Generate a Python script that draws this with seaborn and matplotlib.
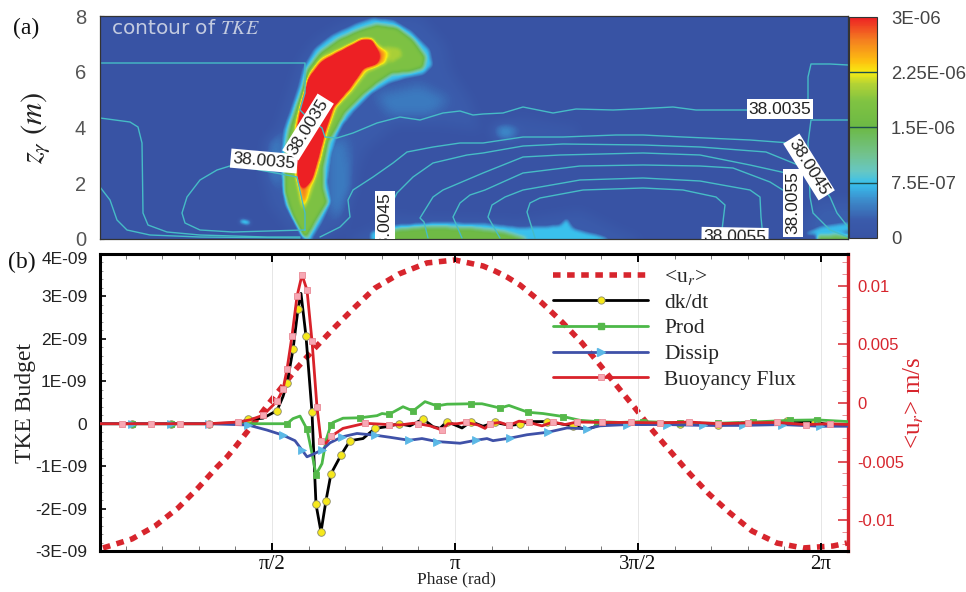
import numpy as np
import matplotlib
matplotlib.use("Agg")
import matplotlib.pyplot as plt
from matplotlib.colors import LinearSegmentedColormap
from matplotlib.lines import Line2D
from matplotlib.path import Path
from matplotlib.ticker import MultipleLocator
from matplotlib.transforms import ScaledTranslation
import seaborn as sns

# ---------- panel (b): TKE budget, values in 1E-09, phase given as sample number ----------
ur_sample = [3,32,55,78,98,117,127,136,147,170,197,215,235,255,275,299,327,355,383,395,407,420,442,462,482,500,517,535,553,571,590,609,630,652,677,703,733,747]
ur_mms = [-12.36,-11.59,-10.49,-8.95,-7.25,-5.46,-4.60,-3.67,-2.47,.09,2.98,4.69,6.48,8.18,9.80,11.0,11.94,12.19,11.68,11.25,10.74,10.06,8.53,6.91,5.12,3.24,1.45,-.43,-2.39,-4.18,-6.05,-7.76,-9.38,-10.91,-11.94,-12.36,-12.19,-11.94]

dk_sample = [0,32,71,109,140,148,163,177,183,187,193,198,201,206,212,216,221,226,231,241,250,263,275,287,299,310,323,333,340,347,362,371,383,395,410,420,430,447,460,473,487,500,540,580,618,653,687,700,715,730,748]
dk_value = [0,0,0,0,.02,.10,.13,.31,.64,.95,1.75,2.70,3.07,2.06,.27,-1.90,-2.55,-1.81,-1.18,-.74,-.40,-.35,-.11,-.07,0,-.05,.11,-.07,-.11,.05,-.10,.05,-.06,.03,-.04,-.01,.05,.05,0,-.05,-.14,-.02,0,0,-.03,0,.06,.05,.04,-.03,-.03]
dk_marks = [32,71,109,148,177,187,193,198,206,212,216,221,226,231,241,250,275,299,323,347,371,395,420,447,473,580,618,687,715]

prod_sample = [0,32,71,109,147,187,193,200,207,212,216,222,226,231,233,243,260,277,282,289,303,313,325,337,347,371,382,400,409,428,443,463,480,497,520,543,580,618,653,690,717,748]
prod_value = [0,0,0,0,0,0,.12,.18,-.13,-.70,-1.2,-.94,-.39,-.02,.03,.13,.14,.19,.24,.22,.40,.30,.52,.42,.46,.47,.47,.37,.43,.27,.24,.17,.08,.05,.03,.05,.02,.01,.04,.08,.09,.05]
prod_marks = [32,71,109,187,207,216,231,260,289,313,337,371,400,428,463,497,543,580,618,653,690,717]

diss_sample = [0,32,71,109,148,167,183,195,202,207,213,222,230,242,257,275,290,309,322,337,360,376,387,393,410,427,448,467,487,500,527,567,603,643,682,720,748]
diss_value = [0,0,0,0,-.03,-.15,-.27,-.40,-.62,-.78,-.72,-.62,-.45,-.31,-.23,-.27,-.32,-.39,-.35,-.42,-.46,-.39,-.35,-.40,-.34,-.26,-.20,-.10,-.12,-.05,-.02,-.02,-.04,-.04,-.02,-.06,-.06]
diss_marks = [32,71,109,148,183,202,222,242,275,309,337,376,410,448,487,527,567,603,643,682,720]

buoy_sample = [0,22,51,80,109,138,150,163,177,183,187,192,197,202,207,212,217,221,226,231,243,265,289,300,313,318,330,342,348,357,366,378,385,390,400,409,419,429,442,453,465,477,502,531,560,589,618,648,677,706,730,748]
buoy_value = [0,0,0,0,0,.04,.09,.20,.53,.81,1.28,2.07,3.0,3.51,3.15,1.95,.39,-.41,-.46,-.30,-.11,.01,-.02,-.03,.01,0,-.05,-.15,0,0,.03,-.03,-.11,0,.03,-.04,.06,.03,-.05,.04,-.02,.04,.03,.03,.02,.04,0,.02,.03,-.02,0,-.02]
buoy_marks = [22,51,80,109,138,163,177,183,187,192,197,202,207,212,217,221,231,265,289,318,342,366,390,409,429,453,477,502,531,560,589,618,648,677,706,730]

budget_ticks = [4,3,2,1,0,-1,-2,-3]
budget_labels = ["4E-09","3E-09","2E-09","1E-09","0","-1E-09","-2E-09","-3E-09"]
ur_ticks = [.01,.005,0,-.005,-.01]
ur_labels = ["0.01","0.005","0","-0.005","-0.01"]
phase_labels = ["\u03c0/2","\u03c0","3\u03c0/2","2\u03c0"]

# ---------- panel (a): TKE outlines read on the 748 x 223 field grid as (column, row) ----------
glow_plume = [(195,219),(170,189),(162,154),(170,124),(180,104),(190,74),(200,44),(215,24),(240,9),(270,0),(320,1),(345,29),(350,54),(370,84),(380,114),(340,109),(295,109),(265,134),(250,174),(245,209),(220,222)]
glow_right = [(275,79),(320,69),(350,84),(330,99),(290,99)]
glow_lee = [(228,130),(245,120),(255,170),(240,205),(228,190)]
glow_windward = [(165,125),(183,115),(182,170),(170,165)]
glow_far = [(388,110),(420,102),(480,112),(470,126),(400,126)]
glow_spot = [(395,110),(415,111),(415,122),(396,122)]
glow_floor = [(250,223),(275,212),(290,200),(420,205),(480,195),(520,215),(540,223)]
glow_corner = [(700,221),(705,199),(720,184),(748,184),(748,222)]
cyan_corner = [(703,218),(720,210),(748,206),(748,216),(730,221)]
green_corner = [(717,220),(748,219),(748,223),(717,223)]
blob = [(140,204),(150,205),(150,208),(140,207)]
cyan_floor = [(270,216),(290,209),(337,206),(383,207),(420,211),(460,209),(467,202),(473,212),(487,216),(500,219),(510,223),(270,223)]
green_floor = [(293,214),(327,211),(370,212),(403,216),(427,223),(293,223)]
cyan_plume = [(205,223),(195,206),(185,189),(182,169),(180,142),(183,116),(185,109),(190,96),(198,72),(203,52),(215,32),(232,19),(257,7),(273,2),(293,4),(313,16),(330,34),(333,49),(323,59),(307,62),(290,67),(273,77),(257,92),(243,109),(238,119),(232,139),(228,166),(232,186),(222,206),(212,223)]
green_plume = [(203,221),(192,199),(185,176),(185,149),(188,122),(190,112),(195,96),(203,74),(208,54),(220,37),(238,24),(260,14),(277,9),(297,12),(313,24),(325,41),(323,52),(308,56),(292,57),(277,67),(260,81),(245,96),(237,111),(228,126),(223,152),(223,172),(227,186),(215,206),(207,221)]
lobe = [(285,30),(300,32),(303,40),(290,48)]
yellow_plume = [(203,194),(197,167),(193,131),(195,111),(197,101),(205,74),(208,57),(220,42),(237,34),(263,23),(270,23),(288,36),(287,47),(267,56),(253,74),(237,91),(228,114),(222,141),(215,164),(208,184)]
orange_tail = [(199,165),(208,166),(206,180),(203,190),(201,180)]
orange_tip = [(270,26),(284,36),(283,46),(270,50)]
red_plume = [(198,161),(197,134),(198,111),(202,87),(208,64),(222,46),(240,36),(262,24),(272,24),(278,39),(277,47),(263,52),(250,71),(233,91),(225,114),(218,141),(212,162),(207,169),(202,171)]

tke_faint = [
    (glow_plume,.24e-6),(glow_right,.42e-6),(glow_lee,.42e-6),(glow_windward,.42e-6),
    (glow_far,.2e-6),(glow_spot,.65e-6),(glow_floor,.24e-6),(glow_corner,.26e-6),
]
tke_core = [
    (cyan_corner,.72e-6),(green_corner,1.5e-6),(blob,1.4e-6),(cyan_floor,.74e-6),(green_floor,1.55e-6),
    (cyan_plume,.74e-6),(green_plume,1.8e-6),(lobe,2.05e-6),(yellow_plume,2.3e-6),
    (orange_tail,2.7e-6),(orange_tip,2.7e-6),(red_plume,4.0e-6),
]

salinity_lines = [
    [(0,47),(205,47),(205,77),(200,94),(207,101),(222,112),(225,121),(237,122),(253,117),(277,107),(300,101),(320,104),(343,97),(360,95),(373,99),(383,98),(403,97),(423,91),(453,97),(476,93),(513,94),(536,93),(573,91),(596,94),(646,94),(708,94),(708,61),(711,48),(730,48),(748,49)],
    [(0,102),(30,106),(38,111),(42,127),(43,197),(48,209),(67,216),(100,219),(167,221),(200,221)],
    [(205,214),(133,216),(100,214),(85,207),(82,197),(87,181),(100,164),(117,154),(133,149),(197,161),(202,184),(205,197),(205,214)],
    [(0,171),(10,184),(17,204),(27,214),(50,219),(100,221),(200,222)],
    [(220,221),(240,211),(250,201),(248,184),(253,174),(273,161),(293,147),(307,136),(333,131),(360,127),(383,127),(423,121),(463,121),(516,119),(543,119),(583,121),(650,124),(690,127),(730,181),(737,197),(748,211)],
    [(748,104),(711,104),(708,127),(710,181),(713,197),(730,214),(748,221)],
    [(292,222),(292,187),(297,177),(313,161),(333,147),(367,139),(383,137),(423,130),(463,128),(543,129),(600,131),(666,136),(698,149)],
    [(328,222),(324,206),(320,202),(333,181),(343,174),(383,157),(423,141),(460,139),(543,137),(600,139),(650,149),(686,157)],
    [(362,222),(353,201),(360,187),(370,179),(385,174),(423,157),(480,150),(543,149),(600,150),(633,152),(670,166),(686,176)],
    [(400,222),(388,201),(392,189),(405,181),(423,174),(480,164),(543,162),(600,165),(650,174),(660,181),(661,201),(663,221)],
    [(435,222),(427,196),(430,187),(440,182),(483,174),(543,172),(583,174),(616,181),(625,189),(622,214)],
]
line_labels = [("38.0035",164,145,-5),("38.0035",208,111,58),("38.0045",285,208,90),
               ("38.0035",680,93,0),("38.0045",709,151,-58),("38.0055",693,187,90),("38.0055",635,221,-1)]
z_ticks = [8,6,4,2,0]
tke_ticks = [0,7.5e-7,1.5e-6,2.25e-6,3e-6]
tke_tick_labels = ["0","7.5E-07","1.5E-06","2.25E-06","3E-06"]

GRID_W, GRID_H = 748, 223

sns.set_theme(style="ticks")
plt.rcParams["font.family"] = ["Liberation Sans", "DejaVu Sans"]
plt.rcParams["mathtext.fontset"] = "stix"
SERIF = ["Liberation Serif", "DejaVu Serif"]

W, H = 966, 592
def box(x0, y0, x1, y1):
    return [x0/W, 1-y1/H, (x1-x0)/W, (y1-y0)/H]

fig = plt.figure(figsize=(W/100, H/100), dpi=100, facecolor="white")
ax_a = fig.add_axes(box(100, 16, 848, 239))
cax = fig.add_axes(box(849, 17, 877, 238))
ax_u = fig.add_axes(box(100, 254, 848, 551))
ax_b = fig.add_axes(box(100, 254, 848, 551))

# ---- field
cols, rows = np.meshgrid(np.arange(GRID_W)+.5, np.arange(GRID_H)+.5)
pts = np.column_stack([cols.ravel(), rows.ravel()])

def paint(regions):
    out = np.zeros(GRID_H*GRID_W)
    for outline, level in regions:
        out[Path(outline + [outline[0]]).contains_points(pts)] = level
    return out.reshape(GRID_H, GRID_W)

def soften(a, r, passes=2):
    kernel = np.ones(2*r+1)/(2*r+1)
    for _ in range(passes):
        a = np.pad(a, r, mode="edge")
        a = np.apply_along_axis(lambda v: np.convolve(v, kernel, mode="valid"), 0, a)
        a = np.apply_along_axis(lambda v: np.convolve(v, kernel, mode="valid"), 1, a)
    return a

field = np.maximum(soften(paint(tke_faint), 6), soften(paint(tke_core), 2))

cmap = LinearSegmentedColormap.from_list("tke", [
    (0,"#3853a4"),(.08,"#3a5bab"),(.17,"#3c8ccb"),(.245,"#38c0ee"),(.30,"#66c7c4"),
    (.38,"#72c28c"),(.5,"#6cb945"),(.62,"#80c342"),(.70,"#b5d334"),(.75,"#f7ec13"),
    (.80,"#fdc010"),(.90,"#f47c20"),(1,"#ed2024")])

sns.heatmap(field, ax=ax_a, cbar_ax=cax, cmap=cmap, vmin=0, vmax=3e-6,
            xticklabels=False, yticklabels=False, rasterized=True,
            cbar_kws={"ticks": tke_ticks})
cb = ax_a.collections[0].colorbar
cb.ax.set_yticklabels(tke_tick_labels, fontsize=13.3, color="#444444")
cb.ax.tick_params(length=0, pad=10)
cb.outline.set_visible(True); cb.outline.set_edgecolor("#333333"); cb.outline.set_linewidth(.8)
cb.ax.hlines(tke_ticks[1:4], 0, 1, transform=cb.ax.get_yaxis_transform(), colors="#1d4f4f", lw=1)

for line in salinity_lines:
    xs, ys = zip(*line)
    sns.lineplot(x=np.array(xs), y=np.array(ys), ax=ax_a, sort=False, estimator=None,
                 color="#46bcc6", lw=1, legend=False)
ax_a.set_xlim(0, GRID_W); ax_a.set_ylim(GRID_H, 0)
for text, c, r, rot in line_labels:
    ax_a.text(c, r, text, rotation=rot, rotation_mode="anchor", ha="center", va="center",
              fontsize=12.5, color="#222222", clip_on=True, zorder=5,
              bbox=dict(facecolor="white", edgecolor="none", pad=1.5))
ax_a.text(11, 13, "contour of $TKE$", fontsize=14.5, color="#c3cbe0", va="center", ha="left",
          family=["DejaVu Sans"])
ax_a.set_yticks([(8-z)/8*GRID_H for z in z_ticks])
ax_a.set_yticklabels([str(z) for z in z_ticks], fontsize=14.5, color="#555555")
ax_a.set_xticks(171+36.6*np.arange(-4, 16))
ax_a.set_xticklabels([])
ax_a.tick_params(axis="both", direction="in", length=3, width=.8, color="#222222", pad=10, left=True, bottom=True)
ax_a.set(xlabel="", ylabel="")
for s in ax_a.spines.values():
    s.set_visible(True); s.set_color("#333333"); s.set_linewidth(.9)

# ---- budget curves
PHASE0 = (np.pi/2)*(11/183)
DPHI = (np.pi/2)/183
def phase(s):
    return PHASE0 + np.asarray(s, float)*DPHI

sns.lineplot(x=phase(ur_sample), y=np.array(ur_mms)*1e-3, ax=ax_u, sort=False, estimator=None,
             color="#d7252d", lw=4, linestyle=(0, (1.36, 1.18)), legend=False)

curves = [
    (dk_sample, dk_value, dk_marks, "black", "o", "#f6e81c", "#8a8a6a", 30),
    (prod_sample, prod_value, prod_marks, "#4cb848", "s", "#55b84a", "#55b84a", 24),
    (diss_sample, diss_value, diss_marks, "#3f51a8", ">", "#5bb8e6", "#5bb8e6", 32),
    (buoy_sample, buoy_value, buoy_marks, "#d9222a", "s", "#f7a8b4", "#ea8a96", 20),
]
for i, (s, v, m, col, mk, mfc, mec, size) in enumerate(curves):
    s = np.array(s); v = np.array(v)*1e-9
    sns.lineplot(x=phase(s), y=v, ax=ax_b, sort=False, estimator=None, color=col, lw=2,
                 legend=False, zorder=3+i*2)
    keep = np.isin(s, m)
    sns.scatterplot(x=phase(s[keep]), y=v[keep], ax=ax_b, marker=mk, s=size, color=mfc,
                    edgecolor=mec, linewidth=.6, legend=False, zorder=4+i*2)

xlim = (phase(0), phase(748))
ax_b.set_xlim(xlim); ax_u.set_xlim(xlim)
ax_b.set_ylim(-3e-9, 4e-9)
ax_u.set_ylim(-0.012617, 0.012702)
ax_b.patch.set_visible(False)
ax_u.set_zorder(1); ax_b.set_zorder(2); ax_a.set_zorder(2)

ax_b.set_xticks([np.pi/2, np.pi, 3*np.pi/2, 2*np.pi])
ax_b.set_xticklabels(phase_labels, family=SERIF, fontsize=15, color="#111111")
ax_b.xaxis.set_minor_locator(MultipleLocator(np.pi/10))
ax_b.set_yticks([t*1e-9 for t in budget_ticks])
ax_b.set_yticklabels(budget_labels, fontsize=12.5, color="#222222")
ax_b.yaxis.set_minor_locator(MultipleLocator(.2e-9))
ax_b.tick_params(axis="x", which="major", direction="in", top=True, bottom=True, length=6, width=1.4, color="black", pad=3)
ax_b.tick_params(axis="x", which="minor", direction="in", top=True, bottom=True, length=3.5, width=.7, color="#777777")
ax_b.tick_params(axis="y", which="major", direction="in", left=True, right=False, length=4.5, width=1.2, color="black", pad=9)
ax_b.tick_params(axis="y", which="minor", direction="in", left=True, right=False, length=2.5, width=.6, color="#888888")
ax_b.grid(axis="x", which="major", color="#e6e6e6", lw=.7)
ax_b.set_axisbelow(True)
ax_b.set(xlabel="", ylabel="")
for name, s in ax_b.spines.items():
    s.set_visible(name != "right"); s.set_color("black"); s.set_linewidth(2.2)
top_label = ax_b.get_yticklabels()[0]
top_label.set_transform(top_label.get_transform() + ScaledTranslation(0, -3/72, fig.dpi_scale_trans))

ax_u.set_xticks([])
ax_u.yaxis.tick_right()
ax_u.set_yticks(ur_ticks)
ax_u.set_yticklabels(ur_labels, fontsize=12, color="#d7252d")
ax_u.yaxis.set_minor_locator(MultipleLocator(.001))
ax_u.tick_params(axis="y", which="major", direction="in", right=True, left=False, length=7, width=1.1, color="#d7252d", pad=6.5)
ax_u.tick_params(axis="y", which="minor", direction="in", right=True, left=False, length=4.5, width=.7, color="#eb8f94")
ax_u.set(xlabel="", ylabel="")
for name, s in ax_u.spines.items():
    s.set_visible(name == "right"); s.set_color("#d7252d"); s.set_linewidth(2.4)

handles = [
    Line2D([], [], color="#d7252d", lw=4, linestyle=(0, (1.36, 1.18))),
    Line2D([], [], color="black", lw=2, marker="o", ms=5.2, mfc="#f6e81c", mec="#8a8a6a", mew=.6),
    Line2D([], [], color="#4cb848", lw=2, marker="s", ms=4.8, mfc="#55b84a", mec="#55b84a"),
    Line2D([], [], color="#3f51a8", lw=2, marker=">", ms=5.5, mfc="#5bb8e6", mec="#5bb8e6"),
    Line2D([], [], color="#d9222a", lw=2, marker="s", ms=4.4, mfc="#f7a8b4", mec="#ea8a96", mew=.6),
]
leg = ax_b.legend(handles, ["<u$_r$>", "dk/dt", "Prod", "Dissip", "Buoyancy Flux"],
                  loc="upper left", bbox_to_anchor=((553-100)/748, 1-(267-254)/297),
                  frameon=False, numpoints=1, handlelength=4.42, handletextpad=.74,
                  borderpad=0, borderaxespad=0, labelspacing=.26,
                  prop={"family": SERIF, "size": 15.5})
leg.set_zorder(20)

# ---- free texts
def ftext(px, py, s, **kw):
    fig.text(px/W, 1-py/H, s, **kw)
ftext(13, 28, "(a)", family=SERIF, fontsize=17, color="#111111", va="center")
ftext(8, 262, "(b)", family=SERIF, fontsize=17, color="#111111", va="center")
ftext(36, 128, r"$z_\gamma\ (m)$", fontsize=22, rotation=90, ha="center", va="center", color="#222222")
ftext(26, 403, "TKE Budget", family=SERIF, fontsize=17, rotation=90, ha="center", va="center", color="#222222")
ftext(456, 579, "Phase (rad)", family=SERIF, fontsize=12.5, ha="center", va="center", color="#222222")
ftext(914, 403, "<u$_r$> m/s", family=SERIF, fontsize=18, rotation=90, ha="center", va="center", color="#d7252d")

fig.savefig("out.png", dpi=100)
